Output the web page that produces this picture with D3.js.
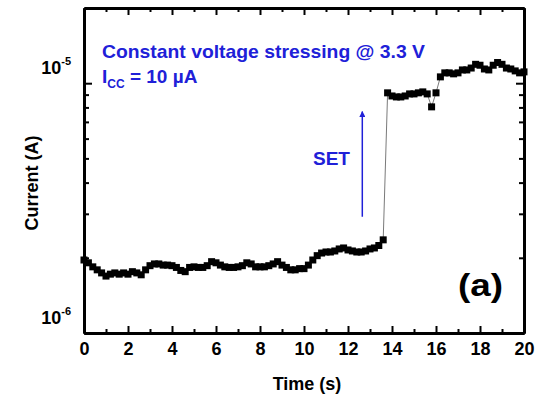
<!DOCTYPE html>
<html>
<head>
<meta charset="utf-8">
<script src="https://cdn.jsdelivr.net/npm/d3@7"></script>
<style>
  body { margin: 0; background: #fff; }
  text { font-family: "Liberation Sans", Arial, sans-serif; font-weight: bold; }
</style>
</head>
<body>
<div id="chart"></div>
<script>
// values
const timeS = [
  0, 0.2, 0.4, 0.6, 0.8, 1.0, 1.2, 1.4, 1.6, 1.8,
  2.0, 2.2, 2.4, 2.6, 2.8, 3.0, 3.2, 3.4, 3.6, 3.8,
  4.0, 4.2, 4.4, 4.6, 4.8, 5.0, 5.2, 5.4, 5.6, 5.8,
  6.0, 6.2, 6.4, 6.6, 6.8, 7.0, 7.2, 7.4, 7.6, 7.8,
  8.0, 8.2, 8.4, 8.6, 8.8, 9.0, 9.2, 9.4, 9.6, 9.8,
  10.0, 10.2, 10.4, 10.6, 10.8, 11.0, 11.2, 11.4, 11.6, 11.8,
  12.0, 12.2, 12.4, 12.6, 12.8, 13.0, 13.2, 13.4, 13.6, 13.8,
  14.0, 14.2, 14.4, 14.6, 14.8, 15.0, 15.2, 15.4, 15.6, 15.8,
  16.0, 16.2, 16.4, 16.6, 16.8, 17.0, 17.2, 17.4, 17.6, 17.8,
  18.0, 18.2, 18.4, 18.6, 18.8, 19.0, 19.2, 19.4, 19.6, 19.8, 20.0
]
// current in microamps
const currentUA = [
  1.96, 1.91, 1.84, 1.79, 1.74, 1.69, 1.72, 1.74, 1.72, 1.74,
  1.72, 1.76, 1.74, 1.71, 1.79, 1.86, 1.89, 1.89, 1.87, 1.87,
  1.86, 1.83, 1.78, 1.76, 1.83, 1.84, 1.83, 1.83, 1.86, 1.93,
  1.91, 1.87, 1.84, 1.83, 1.83, 1.84, 1.86, 1.91, 1.89, 1.84,
  1.84, 1.84, 1.86, 1.89, 1.93, 1.87, 1.83, 1.79, 1.79, 1.81,
  1.81, 1.87, 1.96, 2.04, 2.09, 2.11, 2.11, 2.13, 2.17, 2.19,
  2.15, 2.13, 2.11, 2.11, 2.13, 2.17, 2.19, 2.24, 2.36, 9.15,
  8.89, 8.81, 8.81, 8.89, 9.06, 9.06, 9.15, 9.23, 9.06, 8.04,
  9.15, 10.6, 11.0, 11.0, 10.9, 11.0, 11.3, 11.3, 11.5, 11.9,
  11.8, 11.4, 11.3, 11.8, 12.1, 11.9, 11.5, 11.4, 11.2, 11.0, 11.1
]
const xMajorTicks = [0, 2, 4, 6, 8, 10, 12, 14, 16, 18, 20]
const xMinorTicks = [1, 3, 5, 7, 9, 11, 13, 15, 17, 19]
const yMajorTicks = [1e-6, 1e-5]
const yMajorLabels = ["-6", "-5"]
const yMinorTicks = [2e-6, 3e-6, 4e-6, 5e-6, 6e-6, 7e-6, 8e-6, 9e-6]
const setArrow = {t: 12.65, from: 2.92e-6, to: 7.7e-6}

const width = 537, height = 397
const margin = {top: 8, right: 13, bottom: 64, left: 84}
const blue = "#2020d8"

const data = timeS.map((t, i) => ({t: t, i: currentUA[i] * 1e-6}))

const svg = d3.select("#chart")
  .append("svg")
  .attr("width", width)
  .attr("height", height)

const x = d3.scaleLinear().domain([0, 20]).range([margin.left, width - margin.right])
const y = d3.scaleLog().domain([1e-6, 2e-5]).range([height - margin.bottom, margin.top])

function styleAxis(g) {
  g.selectAll(".domain").attr("stroke", "#000").attr("stroke-width", 3)
  g.selectAll(".tick line").attr("stroke", "#000").attr("stroke-width", 2)
}

// bottom
svg.append("g")
  .attr("transform", `translate(0,${height - margin.bottom})`)
  .call(d3.axisBottom(x).tickValues(xMajorTicks).tickSize(-7).tickSizeOuter(0).tickPadding(9))
  .call(styleAxis)
  .call(g => g.selectAll("text")
    .attr("font-size", 18).attr("font-weight", "bold").attr("fill", "#000")
    .attr("font-family", "Liberation Sans, Arial, sans-serif"))
svg.append("g")
  .attr("transform", `translate(0,${height - margin.bottom})`)
  .call(d3.axisBottom(x).tickValues(xMinorTicks).tickSize(-4).tickSizeOuter(0).tickFormat(""))
  .call(styleAxis)

// top
svg.append("g")
  .attr("transform", `translate(0,${margin.top})`)
  .call(d3.axisTop(x).tickValues(xMajorTicks).tickSize(-7).tickSizeOuter(0).tickFormat(""))
  .call(styleAxis)
svg.append("g")
  .attr("transform", `translate(0,${margin.top})`)
  .call(d3.axisTop(x).tickValues(xMinorTicks).tickSize(-4).tickSizeOuter(0).tickFormat(""))
  .call(styleAxis)

// left
svg.append("g")
  .attr("transform", `translate(${margin.left},0)`)
  .call(d3.axisLeft(y).tickValues(yMajorTicks).tickSize(-8).tickSizeOuter(0).tickFormat(""))
  .call(styleAxis)
svg.append("g")
  .attr("transform", `translate(${margin.left},0)`)
  .call(d3.axisLeft(y).tickValues(yMinorTicks).tickSize(-5).tickSizeOuter(0).tickFormat(""))
  .call(styleAxis)

// right
svg.append("g")
  .attr("transform", `translate(${width - margin.right},0)`)
  .call(d3.axisRight(y).tickValues(yMajorTicks).tickSize(-8).tickSizeOuter(0).tickFormat(""))
  .call(styleAxis)
svg.append("g")
  .attr("transform", `translate(${width - margin.right},0)`)
  .call(d3.axisRight(y).tickValues(yMinorTicks).tickSize(-5).tickSizeOuter(0).tickFormat(""))
  .call(styleAxis)

// y labels as 10^n
yMajorTicks.forEach((v, k) => {
  const t = svg.append("text")
    .attr("x", margin.left - 13)
    .attr("y", y(v) - 9)
    .attr("text-anchor", "end")
    .attr("font-size", 18)
  t.append("tspan").text("10")
  t.append("tspan").attr("dy", -9).attr("font-size", 11).text(yMajorLabels[k])
})

// axis titles
svg.append("text")
  .attr("x", (x(0) + x(20)) / 2 + 3)
  .attr("y", 390)
  .attr("text-anchor", "middle")
  .attr("font-size", 18)
  .text("Time (s)")

svg.append("text")
  .attr("transform", `translate(38,${183}) rotate(-90)`)
  .attr("text-anchor", "middle")
  .attr("font-size", 18)
  .text("Current (A)")

// data
const line = d3.line().x(d => x(d.t)).y(d => y(d.i))
svg.append("path")
  .datum(data)
  .attr("d", line)
  .attr("fill", "none")
  .attr("stroke", "#7a7a7a")
  .attr("stroke-width", 1)

const sz = 7
svg.selectAll("rect.pt")
  .data(data)
  .enter()
  .append("rect")
    .attr("class", "pt")
    .attr("x", d => x(d.t) - sz / 2)
    .attr("y", d => y(d.i) - sz / 2)
    .attr("width", sz)
    .attr("height", sz)
    .attr("fill", "#000")

// annotations
svg.append("text")
  .attr("x", 102)
  .attr("y", 58)
  .attr("font-size", 19)
  .attr("textLength", 323)
  .attr("lengthAdjust", "spacingAndGlyphs")
  .attr("fill", blue)
  .text("Constant voltage stressing @ 3.3 V")

const icc = svg.append("text")
  .attr("x", 102)
  .attr("y", 83)
  .attr("font-size", 19)
  .attr("fill", blue)
icc.append("tspan").text("I")
icc.append("tspan").attr("dy", 5).attr("font-size", 12).text("CC")
icc.append("tspan").attr("dy", -5).text(" = 10 \u00b5A")

svg.append("text")
  .attr("x", 313)
  .attr("y", 165)
  .attr("font-size", 19)
  .attr("fill", blue)
  .text("SET")

svg.append("defs").append("marker")
  .attr("id", "head")
  .attr("viewBox", "0 0 10 10")
  .attr("refX", 9).attr("refY", 5)
  .attr("markerWidth", 6).attr("markerHeight", 6)
  .attr("markerUnits", "userSpaceOnUse")
  .attr("orient", "auto")
  .append("path")
    .attr("d", "M0,0 L10,5 L0,10 Z")
    .attr("fill", blue)

svg.append("line")
  .attr("x1", x(setArrow.t)).attr("x2", x(setArrow.t))
  .attr("y1", y(setArrow.from)).attr("y2", y(setArrow.to))
  .attr("stroke", blue)
  .attr("stroke-width", 1.5)
  .attr("marker-end", "url(#head)")

svg.append("text")
  .attr("x", 458)
  .attr("y", 296)
  .attr("font-size", 31)
  .attr("textLength", 45)
  .attr("lengthAdjust", "spacingAndGlyphs")
  .attr("fill", "#000")
  .text("(a)")
</script>
</body>
</html>
